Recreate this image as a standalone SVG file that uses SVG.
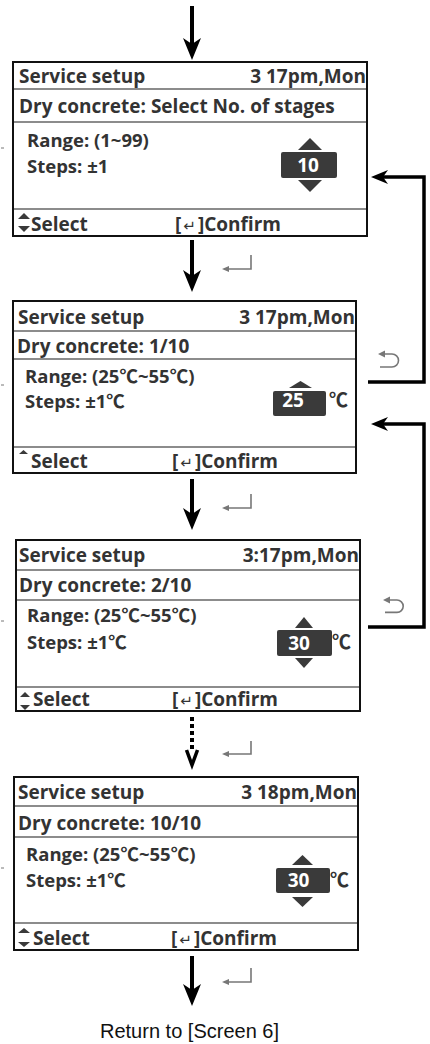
<svg xmlns="http://www.w3.org/2000/svg" width="430" height="1044" viewBox="0 0 430 1044">
<style>
.bg{fill:#fff}
.frame{fill:#fff;stroke:#111;stroke-width:2}
.sep{stroke:#666;stroke-width:1.6}
.t{font-family:"Open Sans","DejaVu Sans",sans-serif;font-weight:700;font-size:19px;fill:#333}
.b{font-size:18.5px}
.end{text-anchor:end}
.val{fill:#fff;text-anchor:middle}
.box{fill:#3a3a3a}
.tri{fill:#3a3a3a}
.ent{font-family:"DejaVu Sans",sans-serif;font-weight:400;font-size:15px}
.deg{font-family:"Noto Sans CJK SC","Noto Sans CJK JP",sans-serif;font-weight:700}
.conn{stroke:#000;stroke-width:4;fill:none}
.dot{stroke:#000;stroke-width:4;fill:none;stroke-dasharray:4 3}
.fb{stroke:#000;stroke-width:3.5;fill:none}
.enter{stroke:#777;stroke-width:1.6;fill:none}
.tick{stroke:#777;stroke-width:1}
.cap{font-family:"Liberation Sans",Arial,sans-serif;font-size:20px;fill:#111}
</style>
<defs>
<marker id="ah" markerUnits="userSpaceOnUse" viewBox="0 0 22 18" refX="12" refY="9" markerWidth="22" markerHeight="18" orient="auto">
<path d="M0,0 L22,9 L0,18 L6,9 z" fill="#000"/>
</marker>
<marker id="ahf" markerUnits="userSpaceOnUse" viewBox="0 0 17 14" refX="9" refY="7" markerWidth="17" markerHeight="14" orient="auto">
<path d="M0,0 L17,7 L0,14 L5,7 z" fill="#000"/>
</marker>
<marker id="eh" markerUnits="userSpaceOnUse" viewBox="0 0 7 6" refX="2" refY="3" markerWidth="7" markerHeight="6" orient="auto">
<path d="M0,0 L7,3 L0,6 z" fill="#777"/>
</marker>
</defs>
<rect class="bg" x="0" y="0" width="430" height="1044"/>

<g id="connectors">
<line class="conn" x1="192" y1="6" x2="192" y2="50" marker-end="url(#ah)"/>
<line class="conn" x1="192" y1="240" x2="192" y2="282" marker-end="url(#ah)"/>
<line class="conn" x1="192" y1="479" x2="192" y2="520" marker-end="url(#ah)"/>
<line class="dot" x1="192" y1="717" x2="192" y2="752"/>
<path d="M186.5 750 L192 765 L197.5 750" stroke="#000" stroke-width="3.5" fill="none" stroke-linejoin="miter"/>
<line class="conn" x1="192" y1="956" x2="192" y2="996" marker-end="url(#ah)"/>
<path class="fb" d="M368 382 H424 V177 H379" marker-end="url(#ahf)"/>
<path class="fb" d="M368 627 H424 V424 H379" marker-end="url(#ahf)"/>
<path class="enter" d="M251 255 V269 H227" marker-end="url(#eh)"/>
<path class="enter" d="M251 494 V508 H227" marker-end="url(#eh)"/>
<path class="enter" d="M251 741 V754 H227" marker-end="url(#eh)"/>
<path class="enter" d="M251 968 V982 H227" marker-end="url(#eh)"/>
<path class="enter" d="M383 354 H392 A6.5 6.5 0 0 1 392 367 H380"/>
<path d="M378 354 L385 350.5 L385 357.5 z" fill="#777"/>
<path class="enter" d="M388 600 H397 A6.2 6.2 0 0 1 397 612.4 H385"/>
<path d="M383 600 L390 596.5 L390 603.5 z" fill="#777"/>
</g>

<g id="screen1">
<line class="tick" x1="1" y1="148" x2="4" y2="148"/>
<rect class="frame" x="13" y="62" width="354" height="174"/>
<text class="t" x="19" y="82.5">Service setup</text>
<text class="t end" x="366" y="82.5">3 17pm,Mon</text>
<line class="sep" x1="14" y1="89" x2="366" y2="89"/>
<text class="t" x="19" y="113">Dry concrete: Select No. of stages</text>
<line class="sep" x1="14" y1="122" x2="366" y2="122"/>
<text class="t b" x="27" y="147">Range: (1~99)</text>
<text class="t b" x="27" y="172.5">Steps: ±1</text>
<path class="tri" d="M298 150 L310 138 L322 150 z"/>
<rect class="box" x="281" y="152" width="56" height="26" rx="2"/>
<text class="t val" x="308" y="171.5">10</text>
<path class="tri" d="M298 180 L322 180 L310 192 z"/>
<line class="sep" x1="14" y1="209" x2="366" y2="209"/>
<path class="tri" d="M18 219 L24 213 L30 219 z"/>
<path class="tri" d="M18 226 L30 226 L24 232 z"/>
<text class="t" x="31" y="231">Select</text>
<text class="t" x="175" y="231">[<tspan class="ent" dx="2">↵</tspan><tspan dx="2">]Confirm</tspan></text>
</g>

<g id="screen2">
<line class="tick" x1="1" y1="385" x2="4" y2="385"/>
<rect class="frame" x="13" y="301" width="343" height="172"/>
<text class="t" x="18" y="324">Service setup</text>
<text class="t end" x="355" y="324">3 17pm,Mon</text>
<line class="sep" x1="14" y1="331" x2="355" y2="331"/>
<text class="t" x="17" y="353">Dry concrete: 1/10</text>
<line class="sep" x1="14" y1="359" x2="355" y2="359"/>
<text class="t b" x="25" y="382.5">Range: (25<tspan class="deg">℃</tspan>~55<tspan class="deg">℃</tspan>)</text>
<text class="t b" x="25" y="408">Steps: ±1<tspan class="deg">℃</tspan></text>
<path class="tri" d="M289 388 L300.5 381 L312 388 z"/>
<rect class="box" x="273" y="391" width="53" height="25" rx="2"/>
<text class="t val" x="293" y="407">25</text>
<text class="t deg" x="329" y="407">℃</text>
<line class="sep" x1="14" y1="447" x2="355" y2="447"/>
<path class="tri" d="M19 454 L23.5 450 L28 454 z"/>
<text class="t" x="31" y="468">Select</text>
<text class="t" x="172" y="468">[<tspan class="ent" dx="2">↵</tspan><tspan dx="2">]Confirm</tspan></text>
</g>

<g id="screen3">
<line class="tick" x1="1" y1="621" x2="4" y2="621"/>
<rect class="frame" x="16" y="540" width="344" height="171"/>
<text class="t" x="19" y="561.5">Service setup</text>
<text class="t end" x="359" y="561.5">3:17pm,Mon</text>
<line class="sep" x1="17" y1="570" x2="359" y2="570"/>
<text class="t" x="19" y="591.5">Dry concrete: 2/10</text>
<line class="sep" x1="17" y1="600" x2="359" y2="600"/>
<text class="t b" x="27" y="621.5">Range: (25<tspan class="deg">℃</tspan>~55<tspan class="deg">℃</tspan>)</text>
<text class="t b" x="27" y="649">Steps: ±1<tspan class="deg">℃</tspan></text>
<path class="tri" d="M295 628 L304 617 L313 628 z"/>
<rect class="box" x="277" y="630" width="55" height="26" rx="2"/>
<text class="t val" x="299" y="650">30</text>
<path class="tri" d="M295 658 L313 658 L304 668 z"/>
<text class="t deg" x="332" y="649">℃</text>
<line class="sep" x1="17" y1="687" x2="359" y2="687"/>
<path class="tri" d="M20 697 L25 692 L30 697 z"/>
<path class="tri" d="M20 705 L30 705 L25 710 z"/>
<text class="t" x="33" y="706">Select</text>
<text class="t" x="172" y="706">[<tspan class="ent" dx="2">↵</tspan><tspan dx="2">]Confirm</tspan></text>
</g>

<g id="screen4">
<line class="tick" x1="1" y1="868" x2="4" y2="868"/>
<rect class="frame" x="14" y="777" width="344" height="173"/>
<text class="t" x="18" y="799">Service setup</text>
<text class="t end" x="357" y="799">3 18pm,Mon</text>
<line class="sep" x1="15" y1="806" x2="357" y2="806"/>
<text class="t" x="18" y="830">Dry concrete: 10/10</text>
<line class="sep" x1="15" y1="837" x2="357" y2="837"/>
<text class="t b" x="26" y="861">Range: (25<tspan class="deg">℃</tspan>~55<tspan class="deg">℃</tspan>)</text>
<text class="t b" x="26" y="886.5">Steps: ±1<tspan class="deg">℃</tspan></text>
<path class="tri" d="M292 865 L302.5 855 L313 865 z"/>
<rect class="box" x="276" y="868" width="54" height="25" rx="2"/>
<text class="t val" x="298.5" y="887">30</text>
<path class="tri" d="M292 897 L313 897 L302.5 907 z"/>
<text class="t deg" x="330" y="886.5">℃</text>
<line class="sep" x1="15" y1="923" x2="357" y2="923"/>
<path class="tri" d="M18 933 L24 928 L30 933 z"/>
<path class="tri" d="M18 942 L30 942 L24 947 z"/>
<text class="t" x="33" y="945">Select</text>
<text class="t" x="171" y="945">[<tspan class="ent" dx="2">↵</tspan><tspan dx="2">]Confirm</tspan></text>
</g>

<g id="return">
<text class="cap" x="100" y="1037.5">Return to [Screen 6]</text>
</g>
</svg>
